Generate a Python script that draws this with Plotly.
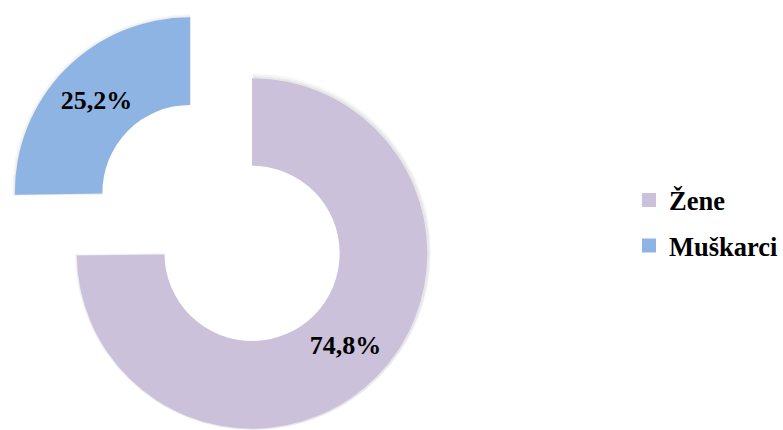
import plotly.graph_objects as go

# --- data -------------------------------------------------------------
labels = ["Žene", "Muškarci"]
shares = [74.8, 25.2]
colors = ["#CCC1DA", "#8EB4E3"]

# --- geometry (pixels) ------------------------------------------------
W, H = 783, 430
R = 176.6            # outer radius of the ring
HOLE = 0.5
MAIN_C = (254.0, 253.4)      # centre of the ring holding "Žene"
DETACHED_C = (191.5, 192.5)  # centre of the pulled-out "Muškarci" segment
FONT = "Liberation Serif, Times New Roman, serif"
CLEAR = "rgba(0,0,0,0)"


def domain(c, r):
    cx, cy = c
    clamp = lambda v: min(1.0, max(0.0, v))
    return dict(
        x=[clamp((cx - r) / W), clamp((cx + r) / W)],
        y=[clamp((H - cy - r) / H), clamp((H - cy + r) / H)],
    )


def ring(show_idx, centre, radius, color=None, text=True):
    slice_colors = [CLEAR] * len(labels)
    slice_colors[show_idx] = color or colors[show_idx]
    templates = [""] * len(labels)
    if text:
        templates[show_idx] = "%{value:.1f}%"
    return go.Pie(
        labels=labels,
        values=shares,
        hole=HOLE,
        sort=False,
        direction="clockwise",
        rotation=0,
        marker=dict(colors=slice_colors, line=dict(width=0)),
        texttemplate=templates,
        textposition="inside",
        insidetextorientation="horizontal",
        textfont=dict(family=FONT, size=26, color="black", weight="bold"),
        domain=domain(centre, radius),
        showlegend=False,
        hoverinfo="skip",
    )


fig = go.Figure()

# soft shadow under the outer edges
for d, a in [(4.5, 0.02), (3.0, 0.03), (1.5, 0.045)]:
    for i, c in enumerate([MAIN_C, DETACHED_C]):
        fig.add_trace(ring(i, (c[0] + 0.8, c[1] + 0.8), R + d,
                           color=f"rgba(0,0,0,{a})", text=False))

fig.add_trace(ring(0, MAIN_C, R))
fig.add_trace(ring(1, DETACHED_C, R))

# legend entries
for i, name in enumerate(labels):
    fig.add_trace(go.Scatter(
        x=[None], y=[None], mode="markers", name=name,
        legendgroup=name,
        marker=dict(symbol="square", size=14, color=colors[i]),
    ))

fig.update_layout(
    width=W, height=H, autosize=False,
    margin=dict(l=0, r=0, t=0, b=0),
    paper_bgcolor="white", plot_bgcolor="white",
    separators=",.",
    xaxis=dict(visible=False), yaxis=dict(visible=False),
    legend=dict(
        x=0.810, xanchor="left", y=0.482, yanchor="middle",
        font=dict(family=FONT, size=26.5, color="black", weight="bold"),
        tracegroupgap=8, itemsizing="trace",
        bgcolor="rgba(0,0,0,0)",
    ),
)

fig.write_html("out.html")
